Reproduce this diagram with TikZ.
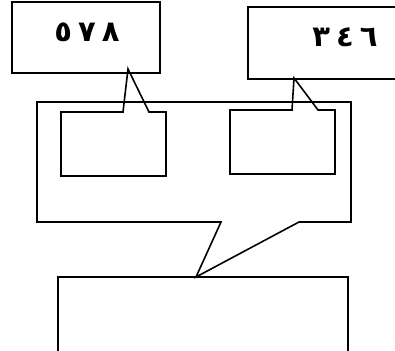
\documentclass[tikz,border=0pt]{standalone}
\usepackage{fontspec}
\newfontfamily\arabicfont[Script=Arabic]{DejaVu Sans}
\TeXXeTstate=1
\begin{document}
\begin{tikzpicture}[x=1pt,y=-1pt,
  outline/.style={draw=black,line width=1.6pt,line join=miter},
  numlabel/.style={font=\arabicfont\bfseries\fontsize{29}{32}\selectfont,inner sep=0pt}]
\useasboundingbox (0,0) rectangle (395,350);
\begin{scope}
\clip (0,0) rectangle (395,350);
% upper left label box
\draw[outline] (12,2) rectangle (160,73);
\node[numlabel] (numA) at (87,32) {\beginR ٨\hspace{6pt}٧\hspace{6pt}٥\endR};
% upper right label box, running off the right side
\draw[outline] (400,7) -- (248,7) -- (248,79) -- (400,79);
\node[numlabel] (numB) at (345,37) {\beginR ٦\hspace{6pt}٤\hspace{6pt}٣\endR};
% large callout with its pointer down to the lower box
\draw[outline] (37,102) -- (351,102) -- (351,222) -- (299,222) -- (196,277)
  -- (221,222) -- (37,222) -- cycle;
% small callouts pointing up to the label boxes
\draw[outline] (61,112) -- (123,112) -- (128,69) -- (149,112) -- (166,112)
  -- (166,176) -- (61,176) -- cycle;
\draw[outline] (230,110) -- (292,110) -- (294,78) -- (318,110) -- (335,110)
  -- (335,174) -- (230,174) -- cycle;
% lower box, open at the bottom
\draw[outline] (58,355) -- (58,277) -- (348,277) -- (348,355);
\end{scope}
\end{tikzpicture}
\end{document}
